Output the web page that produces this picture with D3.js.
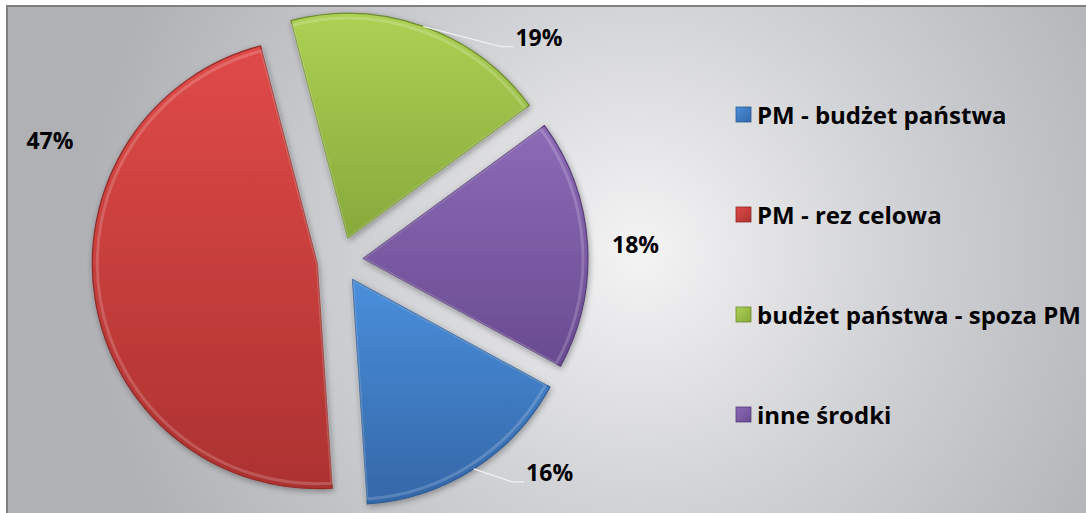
<!DOCTYPE html>
<html><head><meta charset="utf-8">
<script src="https://cdn.jsdelivr.net/npm/d3@7"></script>
<style>
html,body{margin:0;padding:0;background:#fff;}
svg{display:block;}
text{font-family:"Open Sans","Noto Sans",sans-serif;font-weight:bold;fill:#000;}
</style></head>
<body>
<svg id="chart" width="1086" height="513"></svg>
<script>
const categories = ["PM - budżet państwa", "PM - rez celowa", "budżet państwa - spoza PM", "inne środki"];
const values = [16, 47, 19, 18];
const labels = ["16%", "47%", "19%", "18%"];
const colorsLight = ["#4a8fdb", "#df4a48", "#acd153", "#8d6bb7"];
const colorsDark  = ["#3467a8", "#ad3231", "#87a93c", "#694b90"];
const strokeCols  = ["#2c5a93", "#8f2a28", "#6f8b30", "#563d78"];

const W = 1086, H = 513;
const cx = 340, cy = 260, R = 225, explode = 23;
const startDeg = 118.6;
// label placement in polar coords (deg clockwise from top, radius) from pie centre
const labelPolar = [[135.3, 298], [292.5, 314], [41.7, 299], [86.9, 296]];
const hasLeader = [true, false, true, false];

const svg = d3.select("#chart");
const defs = svg.append("defs");

// background gradient
const bg = defs.append("radialGradient").attr("id", "bg")
  .attr("gradientUnits", "userSpaceOnUse")
  .attr("cx", 640).attr("cy", 250).attr("r", 560)
  .attr("fx", 640).attr("fy", 250);
bg.append("stop").attr("offset", "0%").attr("stop-color", "#f4f4f5");
bg.append("stop").attr("offset", "45%").attr("stop-color", "#d2d3d6");
bg.append("stop").attr("offset", "100%").attr("stop-color", "#b0b1b5");

svg.append("rect").attr("x", 6).attr("y", 5).attr("width", W - 6).attr("height", H - 5).attr("fill", "url(#bg)");
svg.append("line").attr("x1", 6).attr("x2", W).attr("y1", 6).attr("y2", 6).attr("stroke", "#808080").attr("stroke-width", 2);
svg.append("line").attr("x1", 7).attr("x2", 7).attr("y1", 5).attr("y2", H).attr("stroke", "#808080").attr("stroke-width", 2);

// shadow filter
const sh = defs.append("filter").attr("id", "shadow").attr("x", "-20%").attr("y", "-20%").attr("width", "140%").attr("height", "140%");
sh.append("feGaussianBlur").attr("in", "SourceAlpha").attr("stdDeviation", 3).attr("result", "b");
sh.append("feOffset").attr("in", "b").attr("dx", 1).attr("dy", 2).attr("result", "o");
sh.append("feComponentTransfer").attr("in", "o").attr("result", "s")
  .append("feFuncA").attr("type", "linear").attr("slope", 0.35);
const mg = sh.append("feMerge");
mg.append("feMergeNode").attr("in", "s");
mg.append("feMergeNode").attr("in", "SourceGraphic");

categories.forEach((c, i) => {
  const g = defs.append("linearGradient").attr("id", "g" + i).attr("x1", 0).attr("y1", 0).attr("x2", 0).attr("y2", 1);
  g.append("stop").attr("offset", "0%").attr("stop-color", colorsLight[i]);
  g.append("stop").attr("offset", "100%").attr("stop-color", colorsDark[i]);
  const lg = defs.append("linearGradient").attr("id", "lg" + i).attr("x1", 0).attr("y1", 0).attr("x2", 1).attr("y2", 1);
  lg.append("stop").attr("offset", "0%").attr("stop-color", colorsLight[i]);
  lg.append("stop").attr("offset", "100%").attr("stop-color", colorsDark[i]);
});

const rad = d => d * Math.PI / 180;
const pie = d3.pie().sort(null).value(d => d)
  .startAngle(rad(startDeg)).endAngle(rad(startDeg + 360));
const arcs = pie(values);
const arc = d3.arc().innerRadius(0).outerRadius(R);
const arcInner = d3.arc().innerRadius(0).outerRadius(R - 5);

const pieG = svg.append("g").attr("transform", `translate(${cx},${cy})`);
arcs.forEach((a, i) => {
  const mid = (a.startAngle + a.endAngle) / 2;
  const ox = Math.sin(mid) * explode, oy = -Math.cos(mid) * explode;
  const sg = pieG.append("g").attr("transform", `translate(${ox},${oy})`);
  sg.append("path").attr("d", arc(a)).attr("fill", `url(#g${i})`)
    .attr("stroke", strokeCols[i]).attr("stroke-width", 1.2).attr("stroke-linejoin", "round")
    .attr("filter", "url(#shadow)");
  // bevel highlight
  sg.append("path").attr("d", arcInner(a)).attr("fill", "none")
    .attr("stroke", "rgba(255,255,255,0.18)").attr("stroke-width", 3).attr("stroke-linejoin", "round");
});

// labels
arcs.forEach((a, i) => {
  const [deg, r] = labelPolar[i];
  const lx = cx + Math.sin(rad(deg)) * r, ly = cy - Math.cos(rad(deg)) * r;
  const t = svg.append("text").attr("x", lx).attr("y", ly).attr("text-anchor", "middle")
    .attr("dominant-baseline", "central").attr("font-size", 23).text(labels[i]);
  if (hasLeader[i]) {
    const mid = (a.startAngle + a.endAngle) / 2;
    const ox = Math.sin(mid) * explode, oy = -Math.cos(mid) * explode;
    const sx = cx + ox + Math.sin(mid) * R, sy = cy + oy - Math.cos(mid) * R;
    const bb = t.node().getBBox();
    const ex = bb.x - 2, ey = bb.y + bb.height - 6;
    svg.append("polyline").attr("points", `${sx},${sy} ${ex - 12},${ey} ${ex},${ey}`)
      .attr("fill", "none").attr("stroke", "#f2f2f2").attr("stroke-width", 1.2);
  }
});

// legend
const leg = svg.append("g");
categories.forEach((c, i) => {
  const y = 115 + i * 100;
  leg.append("rect").attr("x", 736).attr("y", y - 8).attr("width", 15).attr("height", 15)
    .attr("fill", `url(#lg${i})`).attr("stroke", strokeCols[i]).attr("stroke-width", 0.8);
  leg.append("text").attr("x", 757).attr("y", y - 1).attr("dominant-baseline", "central")
    .attr("font-size", 24).text(c);
});
</script>
</body></html>
